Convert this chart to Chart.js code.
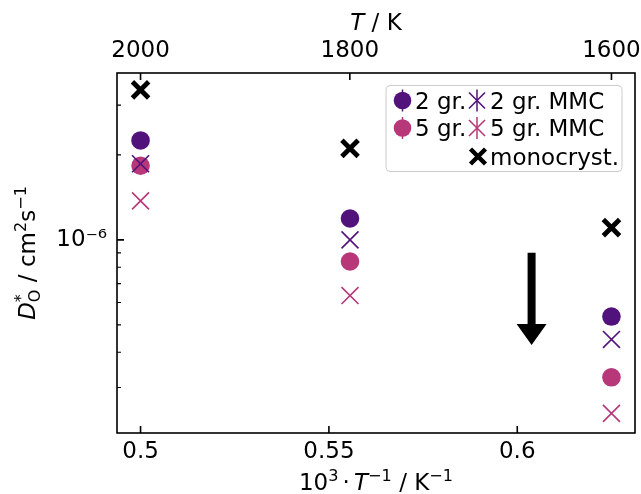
<!DOCTYPE html>
<html>
<head>
<meta charset="utf-8">
<script src="https://cdn.jsdelivr.net/npm/chart.js@4.4.1/dist/chart.umd.min.js"></script>
<style>
  html, body { margin: 0; padding: 0; background: #fff; }
  #wrap { width: 641px; height: 494px; }
</style>
</head>
<body>
<div id="wrap"><canvas id="chart" width="641" height="494"></canvas></div>
<script>
// 10^3 / T positions (T = 2000, 1800, 1600 K)
const invT = [0.5, 0.5556, 0.625];

// D*_O in cm^2 s^-1
const gr2 = [2.25e-6, 1.19e-6, 5.35e-7];
const gr2MMC = [1.86e-6, 1.0e-6, 4.44e-7];
const gr5 = [1.83e-6, 8.38e-7, 3.26e-7];
const gr5MMC = [1.375e-6, 6.35e-7, 2.43e-7];
const mono = [3.40e-6, 2.11e-6, 1.105e-6];

const xTicks = [0.5, 0.55, 0.6];
const xTickLabels = ['0.5', '0.55', '0.6'];
const tempTicks = [2000, 1800, 1600];
const yMajor = [1e-6];
const yMajorLabels = ['10\u207B\u2076'];
const yMinor = [2e-7, 3e-7, 4e-7, 5e-7, 6e-7, 7e-7, 8e-7, 9e-7, 2e-6, 3e-6];

// arrow annotation, in data units
const arrowX = 0.6038;
const arrowFrom = 9.0e-7;
const arrowTo = 4.24e-7;

const yMin = 2.07e-7, yMax = 3.9e-6;
const c2 = '#51127c';
const c5 = '#b73779';
const FONT = '"DejaVu Sans"';
const FS = 23;

Chart.defaults.font.family = FONT;
Chart.defaults.font.size = FS;
Chart.defaults.color = '#000';

function pts(ys) {
  return invT.map((x, i) => ({ x, y: ys[i] }));
}

// rich text: segments {t, it, pos:'sup'|'sub', stack, gap}
function segFont(s, size) {
  const sz = s.pos ? size * 0.7 : size;
  return (s.it ? 'italic ' : '') + sz + 'px ' + FONT;
}
function layoutRich(ctx, segs, size) {
  let x = 0, stackW = 0;
  const out = [];
  segs.forEach(s => {
    ctx.font = segFont(s, size);
    const w = ctx.measureText(s.t).width;
    const g = (s.gap || 0) * size;
    out.push({ s, x: x + g });
    if (s.stack) {
      stackW = w;
    } else {
      x += Math.max(w, stackW) + 2 * g;
      stackW = 0;
    }
  });
  return { out, width: x };
}
function drawRich(ctx, segs, size, cx, cy) {
  const lay = layoutRich(ctx, segs, size);
  const x0 = cx - lay.width / 2;
  const base = cy + size * 0.36;
  ctx.textAlign = 'left';
  ctx.textBaseline = 'alphabetic';
  ctx.fillStyle = '#000';
  lay.out.forEach(o => {
    ctx.font = segFont(o.s, size);
    let dy = 0;
    if (o.s.pos === 'sup') dy = -size * 0.42;
    if (o.s.pos === 'sub') dy = size * 0.22;
    ctx.fillText(o.s.t, x0 + o.x, base + dy);
  });
}

function cross(ctx, x, y, h, lw, color) {
  ctx.save();
  ctx.strokeStyle = color;
  ctx.lineWidth = lw;
  ctx.beginPath();
  ctx.moveTo(x - h, y - h); ctx.lineTo(x + h, y + h);
  ctx.moveTo(x + h, y - h); ctx.lineTo(x - h, y + h);
  ctx.stroke();
  ctx.restore();
}
function vbar(ctx, x, y, h, color) {
  ctx.save();
  ctx.strokeStyle = color;
  ctx.lineWidth = 1.5;
  ctx.beginPath();
  ctx.moveTo(x, y - h); ctx.lineTo(x, y + h);
  ctx.stroke();
  ctx.restore();
}
function dot(ctx, x, y, r, color) {
  ctx.save();
  ctx.fillStyle = color;
  ctx.beginPath();
  ctx.arc(x, y, r, 0, Math.PI * 2);
  ctx.fill();
  ctx.restore();
}

const decor = {
  id: 'decor',
  afterDatasetsDraw(chart) {
    const { ctx, scales } = chart;
    // arrow
    const ax = scales.x.getPixelForValue(arrowX);
    const ay0 = scales.y.getPixelForValue(arrowFrom);
    const ay1 = scales.y.getPixelForValue(arrowTo);
    const headL = 21, headW = 15, shaft = 4;
    ctx.save();
    ctx.fillStyle = '#000';
    ctx.beginPath();
    ctx.moveTo(ax - shaft, ay0);
    ctx.lineTo(ax + shaft, ay0);
    ctx.lineTo(ax + shaft, ay1 - headL);
    ctx.lineTo(ax + headW, ay1 - headL);
    ctx.lineTo(ax, ay1);
    ctx.lineTo(ax - headW, ay1 - headL);
    ctx.lineTo(ax - shaft, ay1 - headL);
    ctx.closePath();
    ctx.fill();
    ctx.restore();
  },
  afterDraw(chart) {
    const { ctx, chartArea: a, scales } = chart;
    ctx.save();
    ctx.strokeStyle = '#000';
    ctx.lineWidth = 1.6;
    // inward ticks
    ctx.beginPath();
    xTicks.forEach(v => {
      const px = scales.x.getPixelForValue(v);
      ctx.moveTo(px, a.bottom); ctx.lineTo(px, a.bottom - 7);
    });
    tempTicks.forEach(t => {
      const px = scales.x2.getPixelForValue(1000 / t);
      ctx.moveTo(px, a.top); ctx.lineTo(px, a.top + 7);
    });
    yMajor.forEach(v => {
      const py = scales.y.getPixelForValue(v);
      ctx.moveTo(a.left, py); ctx.lineTo(a.left + 7, py);
    });
    ctx.stroke();
    ctx.lineWidth = 1.2;
    ctx.beginPath();
    yMinor.filter(v => v > yMin && v < yMax).forEach(v => {
      const py = scales.y.getPixelForValue(v);
      ctx.moveTo(a.left, py); ctx.lineTo(a.left + 4, py);
    });
    ctx.stroke();
    // frame
    ctx.lineWidth = 1.6;
    ctx.strokeRect(a.left, a.top, a.right - a.left, a.bottom - a.top);
    ctx.restore();

    // axis titles
    const cx = (a.left + a.right) / 2;
    drawRich(ctx, [
      { t: '10' }, { t: '3', pos: 'sup' }, { t: '\u00B7', gap: 0.18 },
      { t: 'T', it: 1 }, { t: '\u22121', pos: 'sup' }, { t: ' / K' }, { t: '\u22121', pos: 'sup' }
    ], FS, cx, 482);
    drawRich(ctx, [{ t: 'T', it: 1 }, { t: ' / K' }], FS, cx, 22);
    ctx.save();
    ctx.translate(27, (a.top + a.bottom) / 2);
    ctx.rotate(-Math.PI / 2);
    drawRich(ctx, [
      { t: 'D', it: 1 }, { t: '*', pos: 'sup', stack: 1 }, { t: 'O', pos: 'sub' },
      { t: ' / cm' }, { t: '2', pos: 'sup' }, { t: 's' }, { t: '\u22121', pos: 'sup' }
    ], FS, 0, 0);
    ctx.restore();

    // legend
    ctx.save();
    ctx.fillStyle = 'rgba(255,255,255,0.8)';
    ctx.strokeStyle = '#cccccc';
    ctx.lineWidth = 1;
    ctx.beginPath();
    ctx.roundRect(386, 85.5, 236, 86, 4);
    ctx.fill();
    ctx.stroke();
    ctx.restore();

    const rows = [100.5, 128, 156.5];
    const m1 = 402.5, t1 = 415, m2 = 477, t2 = 490;
    vbar(ctx, m1, rows[0], 11, c2); dot(ctx, m1, rows[0], 8.8, c2);
    vbar(ctx, m1, rows[1], 11, c5); dot(ctx, m1, rows[1], 8.8, c5);
    vbar(ctx, m2, rows[0], 11, c2); cross(ctx, m2, rows[0], 8, 1.6, c2);
    vbar(ctx, m2, rows[1], 11, c5); cross(ctx, m2, rows[1], 8, 1.6, c5);
    cross(ctx, m2 + 1, rows[2], 7.5, 4.5, '#000');
    ctx.save();
    ctx.fillStyle = '#000';
    ctx.font = FS + 'px ' + FONT;
    ctx.textAlign = 'left';
    ctx.textBaseline = 'alphabetic';
    ctx.fillText('2 gr.', t1, rows[0] + 8);
    ctx.fillText('5 gr.', t1, rows[1] + 8);
    ctx.fillText('2 gr. MMC', t2, rows[0] + 8);
    ctx.fillText('5 gr. MMC', t2, rows[1] + 8);
    ctx.fillText('monocryst.', t2, rows[2] + 8);
    ctx.restore();
  }
};

new Chart(document.getElementById('chart'), {
  type: 'scatter',
  data: {
    datasets: [
      { label: 'monocryst.', data: pts(mono), pointStyle: 'crossRot', pointRadius: 11.5,
        borderWidth: 4.8, borderColor: '#000', backgroundColor: '#000', order: 0 },
      { label: '2 gr. MMC', data: pts(gr2MMC), pointStyle: 'crossRot', pointRadius: 12,
        borderWidth: 1.6, borderColor: c2, backgroundColor: c2, order: 1 },
      { label: '5 gr. MMC', data: pts(gr5MMC), pointStyle: 'crossRot', pointRadius: 12,
        borderWidth: 1.6, borderColor: c5, backgroundColor: c5, order: 2 },
      { label: '2 gr.', data: pts(gr2), pointStyle: 'circle', pointRadius: 9.3,
        borderWidth: 0, backgroundColor: c2, order: 3 },
      { label: '5 gr.', data: pts(gr5), pointStyle: 'circle', pointRadius: 9.3,
        borderWidth: 0, backgroundColor: c5, order: 4 }
    ]
  },
  options: {
    responsive: false,
    animation: false,
    events: [],
    layout: { autoPadding: false, padding: { left: 0, right: 6, top: 0, bottom: 0 } },
    plugins: { legend: { display: false }, tooltip: { enabled: false } },
    scales: {
      x: {
        type: 'linear', position: 'bottom', min: 0.49375, max: 0.63125,
        grid: { display: false, drawTicks: false }, border: { display: false },
        ticks: { padding: 5, autoSkip: false, maxRotation: 0,
          callback: (v, i) => xTickLabels[i] },
        afterBuildTicks: s => { s.ticks = xTicks.map(v => ({ value: v })); },
        afterFit: s => { s.height = 61; s.paddingLeft = 0; s.paddingRight = 0; }
      },
      x2: {
        type: 'linear', position: 'top', min: 0.49375, max: 0.63125,
        grid: { display: false, drawTicks: false }, border: { display: false },
        ticks: { padding: 8, autoSkip: false, maxRotation: 0,
          callback: (v, i) => String(tempTicks[i]) },
        afterBuildTicks: s => { s.ticks = tempTicks.map(t => ({ value: 1000 / t })); },
        afterFit: s => { s.height = 73; s.paddingLeft = 0; s.paddingRight = 0; }
      },
      y: {
        type: 'logarithmic', min: yMin, max: yMax,
        grid: { display: false, drawTicks: false }, border: { display: false },
        ticks: { padding: 10, autoSkip: false, callback: (v, i) => yMajorLabels[i] },
        afterBuildTicks: s => { s.ticks = yMajor.map(v => ({ value: v })); },
        afterFit: s => { s.width = 117; }
      }
    }
  },
  plugins: [decor]
});
</script>
</body>
</html>
